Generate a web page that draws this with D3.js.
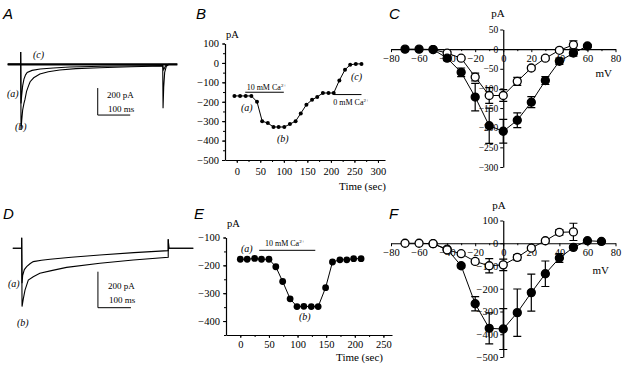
<!DOCTYPE html>
<html>
<head>
<meta charset="utf-8">
<script src="https://cdn.jsdelivr.net/npm/d3@7"></script>
<style>
  body { margin: 0; background: #fff; }
</style>
</head>
<body>
<svg id="fig" width="624" height="368"></svg>
<script>
// ---- data ----
// A: current traces (ms from pulse onset, pA from baseline)
const traceA_b = [[-40,0],[0,0],[0,92],[1,-487],[3,-420],[6,-340],[10,-290],[13,-262],[18,-200],[24,-160],[29,-129],[40,-100],[59,-72],[85,-55],[120,-42],[170,-32],[243,-25],[340,-18],[437,-13],[438,-325],[440,-170],[443,-60],[448,-15],[456,0],[482,0]];
const traceA_a = [[-40,0],[0,0],[0,92],[1,-290],[3,-230],[6,-160],[10,-110],[15,-78],[20,-60],[35,-45],[60,-35],[100,-27],[150,-20],[250,-14],[437,-9],[440,-40],[446,-10],[456,0]];
const traceA_c = [[-40,0],[0,0],[437,0],[482,0]];
const scaleBarA = { t: 237, pA: -176, dt: 100, dpA: 200 };

// B: time course, 10 mM then 0 mM Ca2+
const timeB = [-5,7,19,31,43,54,66,78,89,101,113,125,136,148,160,171,183,195,206,218,230,241,253,265];
const currentB = [-170,-170,-170,-170,-200,-300,-310,-330,-330,-330,-315,-300,-260,-215,-190,-175,-155,-155,-155,-90,-35,-10,-5,-5];
const ticksB_x = [0,50,100,150,200,250,300];
const ticksB_y = [100,0,-100,-200,-300,-400,-500];

// C: I-V relations
const vC_filled = [-70,-60,-50,-40,-30,-20,-10,0,10,20,30,40,50,60];
const iC_filled = [0,0,-1,-23,-59,-122,-195,-209,-181,-135,-80,-31,-10,8];
const eC_filled = [0,0,3,6,11,35,45,30,19,14,10,8,8,4];
const vC_open = [-50,-40,-30,-20,-10,0,10,20,30,40,50];
const iC_open = [-1,-10,-23,-71,-118,-118,-82,-48,-23,-3,11];
const eC_open = [2,4,4,10,20,15,10,5,5,5,10];
const ticksC_y = [50,0,-50,-100,-150,-200,-250,-300];

// D: current traces
const traceD_a = [[-27,0],[0,0],[0,58],[1,-194],[3,-150],[8,-118],[15,-102],[25,-86],[35,-74],[60,-66],[86,-61],[150,-50],[237,-37],[340,-24],[444,-13],[444,50],[446,0],[520,0]];
const traceD_b = [[-27,0],[0,0],[0,58],[1,-324],[5,-280],[10,-232],[20,-176],[35,-158],[55,-139],[90,-124],[136,-106],[237,-83],[338,-65],[444,-50],[444,50],[446,0],[520,0]];
const scaleBarD = { t: 231, pA: -130, dt: 100, dpA: 200 };

// E: time course, 10 mM Ca2+
const timeE = [0,12,25,37,50,62,74,87,99,111,124,136,149,161,174,186,198,211];
const currentE = [-178,-178,-175,-178,-178,-205,-258,-320,-348,-347,-348,-348,-280,-188,-180,-180,-176,-176];
const ticksE_x = [0,50,100,150,200,250];
const ticksE_y = [-100,-200,-300,-400];

// F: I-V relations
const vF_open = [-70,-60,-50,-40,-30,-20,-10,0,10,20,30,40,50];
const iF_open = [0,0,-2,-29,-46,-80,-99,-95,-62,-21,11,48,50];
const eF_open = [0,0,8,6,6,10,31,25,12,6,6,12,38];
const vF_filled = [-50,-40,-30,-20,-10,0,10,20,30,40,50,60,70];
const iF_filled = [-2,-26,-99,-266,-374,-377,-305,-217,-134,-65,-18,11,8];
const eF_filled = [5,8,8,31,68,90,104,81,56,19,5,0,0];
const ticksF_y = [100,0,-100,-200,-300,-400,-500];
const ticksIV_x = [-80,-60,-40,-20,0,20,40,60,80];

// ---- drawing ----
const serif = '"Liberation Serif","Times New Roman",serif';
const sans = '"Liberation Sans",Arial,sans-serif';
const svg = d3.select("#fig");

function letter(txt, x, y) {
  svg.append("text").attr("x", x).attr("y", y).text(txt).attr("fill", "#000")
    .attr("font-family", sans).attr("font-style", "italic").attr("font-size", 15);
}
function label(txt, x, y, opt) {
  opt = opt || {};
  return svg.append("text").attr("x", x).attr("y", y).text(txt).attr("fill", "#000")
    .attr("font-family", serif).attr("font-size", opt.size || 11)
    .attr("font-style", opt.italic ? "italic" : "normal")
    .attr("text-anchor", opt.anchor || "start");
}
function caLabel(txt, x, y) {
  const t = svg.append("text").attr("x", x).attr("y", y).attr("fill", "#000")
    .attr("font-family", serif).attr("font-size", 8);
  t.append("tspan").text(txt);
  t.append("tspan").text("2+").attr("font-size", 5).attr("dy", -3);
}
function styleAxis(g, size) {
  g.attr("font-family", serif);
  g.select(".domain").attr("stroke", "#000").attr("stroke-width", 1.2);
  g.selectAll(".tick line").attr("stroke", "#000");
  g.selectAll("text").attr("font-family", serif).attr("font-size", size).attr("fill", "#000");
}
function minor(g, axis) {
  g.call(axis.tickFormat("").tickSizeOuter(0));
  g.select(".domain").remove();
  g.selectAll(".tick line").attr("stroke", "#000");
}
const d3range = (a, b, s) => d3.range(a, b + 0.001, s);

// --- traces A and D ---
function tracePanel(traces, xs, ys, bar, barTextX, barTextY) {
  const line = d3.line().x(d => xs(d[0])).y(d => ys(d[1]));
  traces.forEach(tr => {
    svg.append("path").datum(tr.data).attr("d", line)
      .attr("fill", "none").attr("stroke", "#000").attr("stroke-width", tr.w || 1.1);
  });
  svg.append("path")
    .attr("d", `M${xs(bar.t)},${ys(bar.pA)}V${ys(bar.pA - bar.dpA)}H${xs(bar.t + bar.dt)}`)
    .attr("fill", "none").attr("stroke", "#000").attr("stroke-width", 1);
  label("200 pA", barTextX, barTextY, { size: 9 });
  label("100 ms", barTextX + 1, barTextY + 14, { size: 9 });
}

const xA = d3.scaleLinear().domain([0, 100]).range([20.7, 53.2]);
const yA = d3.scaleLinear().domain([0, -200]).range([64.3, 91.3]);
tracePanel([{ data: traceA_c, w: 2.2 }, { data: traceA_a }, { data: traceA_b }], xA, yA, scaleBarA, 107, 98);
label("(c)", 33, 58, { italic: true, size: 10 });
label("(a)", 7, 97, { italic: true, size: 10 });
label("(b)", 15, 130, { italic: true, size: 10 });
letter("A", 3, 19);

const xD = d3.scaleLinear().domain([0, 100]).range([21.7, 54.7]);
const yD = d3.scaleLinear().domain([0, -200]).range([248.3, 284.3]);
tracePanel([{ data: traceD_a }, { data: traceD_b }], xD, yD, scaleBarD, 108, 289);
label("(a)", 8, 287, { italic: true, size: 10 });
label("(b)", 17, 326, { italic: true, size: 10 });
letter("D", 3, 219);

// --- time course panels B and E ---
function timePanel(o) {
  const gx = svg.append("g").attr("transform", `translate(0,${o.y.range()[0]})`);
  gx.call(d3.axisBottom(o.x).tickValues(o.xt).tickSize(3).tickPadding(o.xpad).tickSizeOuter(0));
  styleAxis(gx, 10.5);
  minor(svg.append("g").attr("transform", `translate(0,${o.y.range()[0]})`),
        d3.axisBottom(o.x).tickValues(o.xm).tickSize(2));
  const gy = svg.append("g").attr("transform", `translate(${o.x.range()[0]},0)`);
  gy.call(d3.axisLeft(o.y).tickValues(o.yt).tickSize(3).tickPadding(3).tickSizeOuter(0));
  styleAxis(gy, 10.5);
  minor(svg.append("g").attr("transform", `translate(${o.x.range()[0]},0)`),
        d3.axisLeft(o.y).tickValues(o.ym).tickSize(2));
  const line = d3.line().x((d, i) => o.x(o.t[i])).y(d => o.y(d));
  svg.append("path").datum(o.v).attr("d", line)
    .attr("fill", "none").attr("stroke", "#000").attr("stroke-width", 1);
  svg.append("g").selectAll("circle").data(o.v).join("circle")
    .attr("cx", (d, i) => o.x(o.t[i])).attr("cy", d => o.y(d)).attr("r", o.r).attr("fill", "#000");
}

const xB = d3.scaleLinear().domain([-25, 315]).range([225, 385]);
const yB = d3.scaleLinear().domain([-500, 100]).range([160, 43.5]);
timePanel({ x: xB, y: yB, t: timeB, v: currentB, xt: ticksB_x, yt: ticksB_y,
  xm: d3range(0, 300, 25), ym: d3range(-500, 100, 50), r: 2, xpad: 5 });
svg.append("line").attr("x1", xB(18)).attr("x2", xB(100)).attr("y1", yB(-151)).attr("y2", yB(-151))
  .attr("stroke", "#000").attr("stroke-width", 1);
caLabel("10 mM Ca", xB(21), yB(-151) - 2);
svg.append("line").attr("x1", xB(206)).attr("x2", xB(265)).attr("y1", yB(-163)).attr("y2", yB(-163))
  .attr("stroke", "#000").attr("stroke-width", 1);
caLabel("0 mM Ca", xB(205), yB(-163) + 10);
label("(a)", 241, 111, { italic: true, size: 10 });
label("(b)", 277, 142, { italic: true, size: 10 });
label("(c)", 351, 80, { italic: true, size: 10 });
label("pA", 226, 38, { size: 10.5 });
label("Time (sec)", 386, 190, { size: 11, anchor: "end" });
letter("B", 196, 19);

const xE = d3.scaleLinear().domain([-25, 265]).range([226, 392]);
const yE = d3.scaleLinear().domain([-450, -100]).range([335, 237.5]);
timePanel({ x: xE, y: yE, t: timeE, v: currentE, xt: ticksE_x, yt: ticksE_y,
  xm: d3range(0, 250, 25), ym: d3range(-450, -100, 50), r: 3.4, xpad: 3 });
svg.append("line").attr("x1", xE(33)).attr("x2", xE(131)).attr("y1", yE(-146)).attr("y2", yE(-146))
  .attr("stroke", "#000").attr("stroke-width", 1);
caLabel("10 mM Ca", xE(43), yE(-146) - 4);
label("(a)", 241, 252, { italic: true, size: 10 });
label("(b)", 299, 320, { italic: true, size: 10 });
label("pA", 227, 227, { size: 10.5 });
label("Time (sec)", 383, 361, { size: 11, anchor: "end" });
letter("E", 194, 219);

// --- I-V panels C and F ---
function ivPanel(o) {
  const y0 = o.y(0), x0 = o.x(0);
  const gx = svg.append("g").attr("transform", `translate(0,${y0})`);
  gx.call(d3.axisBottom(o.x).tickValues(ticksIV_x).tickSize(3).tickPadding(2).tickSizeOuter(0));
  styleAxis(gx, 10.5);
  minor(svg.append("g").attr("transform", `translate(0,${y0})`),
        d3.axisBottom(o.x).tickValues(d3range(-70, 70, 20)).tickSize(2));
  const gy = svg.append("g").attr("transform", `translate(${x0},0)`);
  gy.call(d3.axisLeft(o.y).tickValues(o.yt).tickSize(3).tickPadding(2).tickSizeOuter(0));
  styleAxis(gy, o.ySize);
  o.series.forEach(s => {
    const g = svg.append("g");
    const line = d3.line().x((d, i) => o.x(s.v[i])).y(d => o.y(d));
    g.append("path").datum(s.i).attr("d", line)
      .attr("fill", "none").attr("stroke", "#000").attr("stroke-width", 1);
    s.i.forEach((d, k) => {
      const e = s.e[k];
      if (e <= 0) return;
      const cx = o.x(s.v[k]);
      g.append("path")
        .attr("d", `M${cx},${o.y(d + e)}V${o.y(d - e)}M${cx - 4},${o.y(d + e)}h8M${cx - 4},${o.y(d - e)}h8`)
        .attr("stroke", "#000").attr("stroke-width", 1.2).attr("fill", "none");
    });
    g.selectAll("circle").data(s.i).join("circle")
      .attr("cx", (d, k) => o.x(s.v[k])).attr("cy", d => o.y(d)).attr("r", 4)
      .attr("fill", s.filled ? "#000" : "#fff").attr("stroke", "#000").attr("stroke-width", 1.3);
  });
}

const xC = d3.scaleLinear().domain([-80, 80]).range([391, 615.5]);
const yC = d3.scaleLinear().domain([-300, 50]).range([167, 29.5]);
ivPanel({ x: xC, y: yC, yt: ticksC_y, ySize: 9.5, series: [
  { v: vC_open, i: iC_open, e: eC_open, filled: false },
  { v: vC_filled, i: iC_filled, e: eC_filled, filled: true }] });
label("pA", 498, 17, { size: 11, anchor: "middle" });
label("mV", 612, 77, { size: 11, anchor: "end" });
letter("C", 389, 19);

const xF = d3.scaleLinear().domain([-80, 80]).range([391, 615.5]);
const yF = d3.scaleLinear().domain([-500, 100]).range([357, 220.5]);
ivPanel({ x: xF, y: yF, yt: ticksF_y, ySize: 10.5, series: [
  { v: vF_filled, i: iF_filled, e: eF_filled, filled: true },
  { v: vF_open, i: iF_open, e: eF_open, filled: false }] });
label("pA", 499, 209, { size: 11, anchor: "middle" });
label("mV", 609, 274, { size: 11, anchor: "end" });
letter("F", 389, 219);
</script>
</body>
</html>
